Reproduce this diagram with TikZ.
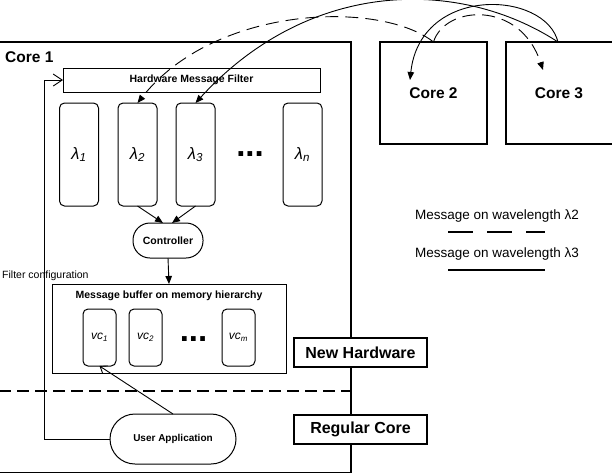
\documentclass[tikz,border=0pt]{standalone}
\usepackage{fontspec}
\setmainfont{Liberation Sans}
\usetikzlibrary{arrows.meta}
\begin{document}
\begin{tikzpicture}[x=1pt,y=-1pt,
  box/.style={draw,line width=1pt,inner sep=0pt,outer sep=0pt},
  corebox/.style={draw,line width=1.3pt,inner sep=0pt,outer sep=0pt,fill=white,font=\fontsize{15.5}{18}\selectfont\bfseries},
  lambdabox/.style={box,rounded corners=5pt,minimum width=39pt,minimum height=103pt,font=\fontsize{16.5}{19}\selectfont\itshape},
  vcbox/.style={box,rounded corners=5pt,minimum width=33pt,minimum height=57pt,font=\fontsize{12}{14}\selectfont\itshape},
  smallbold/.style={font=\fontsize{10.5}{12}\selectfont\bfseries},
  dotsstyle/.style={font=\fontsize{33}{36}\selectfont\bfseries,inner sep=0pt,anchor=base},
  conn/.style={line width=0.9pt},
  tri/.style={-{Triangle[length=8pt,width=6.5pt]}},
  barb/.style={-{Straight Barb[length=6pt,width=9pt]}},
  curvedash/.style={dash pattern=on 13pt off 7pt}
]
\useasboundingbox (0,0) rectangle (612,474);
\clip (0,0) rectangle (612,474);

% Core 1
\node[box,line width=1.3pt,minimum width=352pt,minimum height=430.5pt,anchor=north west] (core1) at (-1,42) {};
\node[anchor=west,inner sep=0pt,font=\fontsize{15.5}{18}\selectfont\bfseries] (core1lbl) at (5,57) {Core 1};

% Hardware message filter
\node[box,minimum width=257pt,minimum height=24pt,smallbold] (filter) at (191.5,80) {Hardware Message Filter};

% lambda boxes
\node[lambdabox] (l1) at (79,154.5) {λ\textsubscript{1}};
\node[lambdabox] (l2) at (137.5,154.5) {λ\textsubscript{2}};
\node[lambdabox] (l3) at (195.5,154.5) {λ\textsubscript{3}};
\node[lambdabox] (ln) at (302.5,154.5) {λ\textsubscript{n}};
\node[dotsstyle] (ldots) at (250,156.7) {...};

% Controller
\node[box,rounded corners=17pt,minimum width=70pt,minimum height=35pt,smallbold] (ctrl) at (168,240.5) {Controller};
\draw[conn,tri] (l2.south) -- ([xshift=-5pt]ctrl.north);
\draw[conn,tri] (l3.south) -- ([xshift=4pt]ctrl.north);

% Message buffer
\node[box,minimum width=234pt,minimum height=89pt] (buf) at (169,328.5) {};
\node[smallbold,inner sep=0pt] (buftitle) at (169,296) {Message buffer on memory hierarchy};
\draw[conn,tri] (ctrl.south) -- (buf.north);

\node[vcbox] (vc1) at (99.5,337.5) {vc\textsubscript{1}};
\node[vcbox] (vc2) at (145.5,337.5) {vc\textsubscript{2}};
\node[vcbox] (vcm) at (238.5,337.5) {vc\textsubscript{m}};
\node[dotsstyle] (vdots) at (193.5,341.5) {...};

% dashed separator
\coordinate (sepl) at (-1,391);
\coordinate (sepr) at (351,391);
\draw[line width=1.3pt,dash pattern=on 12pt off 6pt] (sepl) -- (sepr);

% User application
\node[box,rounded corners=25pt,minimum width=126pt,minimum height=50pt,font=\fontsize{10}{12}\selectfont\bfseries] (ua) at (173,439) {User Application};
\draw[conn,barb] (ua.north) -- (vc1.south);

% Filter configuration
\coordinate (fc) at (44,439);
\draw[conn,-{Straight Barb[length=9pt,width=12pt]}] (ua.west) -- (fc) |- (filter.west);
\node[anchor=west,inner sep=0pt,font=\fontsize{10.5}{12}\selectfont] (fclbl) at (2,276) {Filter configuration};

% Labels New Hardware / Regular Core
\node[corebox,minimum width=133pt,minimum height=29pt,font=\fontsize{16}{19}\selectfont\bfseries] (newhw) at (360.5,352.5) {New Hardware};
\node[corebox,minimum width=133pt,minimum height=29pt,font=\fontsize{16}{19}\selectfont\bfseries] (regcore) at (360.5,429.5) {Regular Core};

% Core 2, Core 3
\node[corebox,minimum width=107pt,minimum height=102pt] (core2) at (433.5,93) {Core 2};
\node[corebox,minimum width=120pt,minimum height=102pt,anchor=north west] (core3) at (506,42) {};
\node[inner sep=0pt,font=\fontsize{15.5}{18}\selectfont\bfseries] (core3lbl) at (559,93) {Core 3};
\coordinate (c3top) at (558,42);
\coordinate (c2in) at (410,80);
\coordinate (c3in) at (543,70);

% messages
\draw[conn,tri] (c3top) .. controls (460,-22) and (310,-22) .. (l3.north);
\draw[conn,tri] (c3top) .. controls (545,-10) and (420,-15) .. (c2in);
\draw[conn,tri,curvedash] (core2.north) .. controls (380,0) and (215,5) .. (l2.north);
\draw[conn,tri,curvedash] (core2.north) .. controls (445,5) and (520,0) .. (c3in);

% Legend
\node[font=\fontsize{13.5}{16}\selectfont,inner sep=0pt] (leg2) at (497,216) {Message on wavelength λ2};
\coordinate (leg2a) at (448,232);
\coordinate (leg2b) at (545,232);
\draw[line width=1.3pt,dash pattern=on 25pt off 14pt] (leg2a) -- (leg2b);
\node[font=\fontsize{13.5}{16}\selectfont,inner sep=0pt] (leg3) at (497,254) {Message on wavelength λ3};
\coordinate (leg3a) at (448,270);
\coordinate (leg3b) at (545,270);
\draw[line width=1.3pt] (leg3a) -- (leg3b);
\end{tikzpicture}
\end{document}
